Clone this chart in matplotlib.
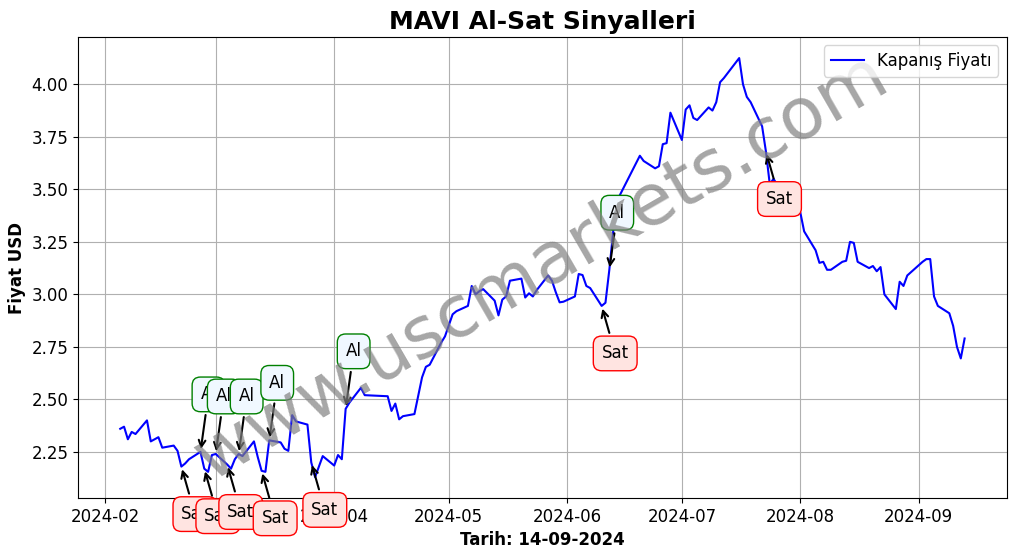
import matplotlib
matplotlib.use('Agg')
import matplotlib.pyplot as plt
import pandas as pd

plt.rcParams['font.size'] = 12

# daily closing prices (USD)
dates = [
    '2024-02-05', '2024-02-06', '2024-02-07', '2024-02-08', '2024-02-09',
    '2024-02-12', '2024-02-13', '2024-02-14', '2024-02-15', '2024-02-16',
    '2024-02-19', '2024-02-20', '2024-02-21', '2024-02-22', '2024-02-23',
    '2024-02-26', '2024-02-27', '2024-02-28', '2024-02-29', '2024-03-01',
    '2024-03-04', '2024-03-05', '2024-03-06', '2024-03-07', '2024-03-08',
    '2024-03-11', '2024-03-12', '2024-03-13', '2024-03-14', '2024-03-15',
    '2024-03-18', '2024-03-19', '2024-03-20', '2024-03-21', '2024-03-22',
    '2024-03-25', '2024-03-26', '2024-03-27', '2024-03-28', '2024-03-29',
    '2024-04-01', '2024-04-02', '2024-04-03', '2024-04-04', '2024-04-05',
    '2024-04-08', '2024-04-09',
    '2024-04-15', '2024-04-16', '2024-04-17', '2024-04-18', '2024-04-19',
    '2024-04-22', '2024-04-24', '2024-04-25', '2024-04-26',
    '2024-04-29', '2024-04-30', '2024-05-02', '2024-05-03',
    '2024-05-06', '2024-05-07', '2024-05-08', '2024-05-09', '2024-05-10',
    '2024-05-13', '2024-05-14', '2024-05-15', '2024-05-16', '2024-05-17',
    '2024-05-20', '2024-05-21', '2024-05-22', '2024-05-23', '2024-05-24',
    '2024-05-27', '2024-05-28', '2024-05-29', '2024-05-30', '2024-05-31',
    '2024-06-03', '2024-06-04', '2024-06-05', '2024-06-06', '2024-06-07',
    '2024-06-10', '2024-06-11', '2024-06-12', '2024-06-13', '2024-06-14',
    '2024-06-20', '2024-06-21',
    '2024-06-24', '2024-06-25', '2024-06-26', '2024-06-27', '2024-06-28',
    '2024-07-01', '2024-07-02', '2024-07-03', '2024-07-04', '2024-07-05',
    '2024-07-08', '2024-07-09', '2024-07-10', '2024-07-11', '2024-07-12',
    '2024-07-16', '2024-07-17', '2024-07-18', '2024-07-19',
    '2024-07-22', '2024-07-23', '2024-07-24', '2024-07-25', '2024-07-26',
    '2024-07-29', '2024-07-30', '2024-07-31', '2024-08-01', '2024-08-02',
    '2024-08-05', '2024-08-06', '2024-08-07', '2024-08-08', '2024-08-09',
    '2024-08-12', '2024-08-13', '2024-08-14', '2024-08-15', '2024-08-16',
    '2024-08-19', '2024-08-20', '2024-08-21', '2024-08-22', '2024-08-23',
    '2024-08-26', '2024-08-27', '2024-08-28', '2024-08-29',
    '2024-09-02', '2024-09-03', '2024-09-04', '2024-09-05', '2024-09-06',
    '2024-09-09', '2024-09-10', '2024-09-11', '2024-09-12', '2024-09-13',
]
prices = [
    2.36, 2.37, 2.31, 2.345, 2.335,
    2.40, 2.30, 2.31, 2.32, 2.27,
    2.28, 2.255, 2.18, 2.195, 2.215,
    2.25, 2.17, 2.155, 2.235, 2.24,
    2.19, 2.17, 2.215, 2.24, 2.23,
    2.30, 2.225, 2.16, 2.155, 2.305,
    2.295, 2.265, 2.255, 2.425, 2.395,
    2.38, 2.20, 2.13, 2.18, 2.23,
    2.185, 2.235, 2.215, 2.455, 2.485,
    2.555, 2.52,
    2.515, 2.445, 2.48, 2.405, 2.42,
    2.43, 2.605, 2.655, 2.665,
    2.77, 2.80, 2.905, 2.92,
    2.945, 3.04, 3.00, 3.015, 3.025,
    2.97, 2.90, 2.975, 2.99, 3.065,
    3.075, 2.985, 3.005, 2.99, 3.02,
    3.09, 3.065, 3.01, 2.962, 2.965,
    2.99, 3.097, 3.092, 3.04, 3.03,
    2.945, 2.96, 3.115, 3.295, 3.445,
    3.66, 3.635,
    3.60, 3.61, 3.715, 3.72, 3.865,
    3.735, 3.88, 3.90, 3.84, 3.83,
    3.89, 3.875, 3.915, 4.01, 4.03,
    4.125, 4.00, 3.94, 3.915,
    3.80, 3.68, 3.525, 3.55, 3.52,
    3.47, 3.44, 3.415, 3.39, 3.30,
    3.21, 3.15, 3.155, 3.117, 3.117,
    3.155, 3.16, 3.25, 3.245, 3.155,
    3.125, 3.135, 3.11, 3.13, 3.00,
    2.93, 3.06, 3.04, 3.09,
    3.155, 3.168, 3.168, 2.99, 2.945,
    2.91, 2.85, 2.75, 2.695, 2.79,
]

# signals
buy_dates = ['2024-02-26', '2024-03-01', '2024-03-07', '2024-03-15', '2024-04-04', '2024-06-12']
buy_prices = [2.25, 2.24, 2.24, 2.305, 2.455, 3.115]
sell_dates = ['2024-02-21', '2024-02-27', '2024-03-04', '2024-03-13', '2024-03-26', '2024-06-10', '2024-07-23']
sell_prices = [2.18, 2.17, 2.19, 2.16, 2.20, 2.945, 3.68]

df = pd.DataFrame({'Close': prices}, index=pd.to_datetime(dates))

fig, ax = plt.subplots(figsize=(10.17, 5.54), dpi=100)
fig.subplots_adjust(left=0.0767, right=0.990, top=0.933, bottom=0.101)

ax.plot(df.index, df['Close'], color='blue', lw=1.5, label='Kapanış Fiyatı')

signals = [(d, p, 'Al') for d, p in zip(buy_dates, buy_prices)] + \
          [(d, p, 'Sat') for d, p in zip(sell_dates, sell_prices)]
signals.sort(key=lambda s: s[0])

for d, p, kind in signals:
    d = pd.Timestamp(d)
    if kind == 'Al':
        ax.annotate('Al', xy=(d, p), xytext=(d, p + 0.25), fontsize=12,
                    arrowprops=dict(arrowstyle='->', color='black', lw=1.5),
                    bbox=dict(boxstyle='round,pad=0.5', fc='aliceblue', ec='green'))
    else:
        ax.annotate('Sat', xy=(d, p), xytext=(d, p - 0.25), fontsize=12,
                    arrowprops=dict(arrowstyle='->', color='black', lw=1.5),
                    bbox=dict(boxstyle='round,pad=0.5', fc='mistyrose', ec='red'))

ax.text(0.5, 0.5, 'www.uscmarkets.com', transform=ax.transAxes, fontsize=52,
        color='gray', alpha=0.7, rotation=30, ha='center', va='center')

ax.set_title('MAVI Al-Sat Sinyalleri', fontsize=18, fontweight='bold')
ax.set_xlabel('Tarih: 14-09-2024', fontweight='bold')
ax.set_ylabel('Fiyat USD', fontweight='bold')
ax.legend(loc='upper right')
ax.grid(True)

plt.savefig('out.png')
